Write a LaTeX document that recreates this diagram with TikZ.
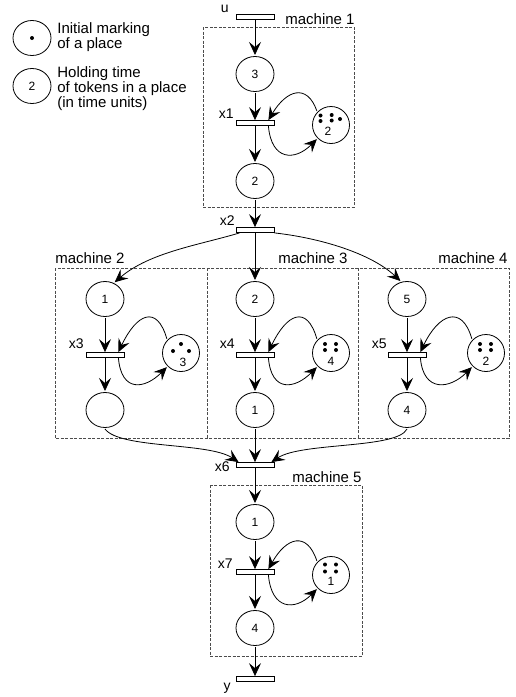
\documentclass[tikz,border=0pt]{standalone}
\usepackage{fontspec}
\setmainfont{Liberation Sans}
\usetikzlibrary{arrows.meta,shapes.geometric}

\tikzset{
  place/.style={ellipse, draw, minimum width=38pt, minimum height=35pt, inner sep=0pt, outer sep=1.5pt, font=\fontsize{12}{13}\selectfont},
  hold/.style={circle, draw, minimum size=37pt, inner sep=0pt, outer sep=1.5pt},
  bar/.style={rectangle, draw, fill=white, minimum width=38pt, minimum height=5pt, inner sep=0pt},
  arc/.style={-{Stealth[length=13pt,width=12pt,inset=5pt]}},
  machbox/.style={draw=black!70, dash pattern=on 3pt off 1.5pt, line width=0.6pt},
  lbl/.style={font=\fontsize{14}{15}\selectfont, inner sep=0pt},
  mlbl/.style={font=\fontsize{15}{13}\selectfont, inner sep=0pt},
  num/.style={font=\fontsize{12}{13}\selectfont, inner sep=0pt},
}

\begin{document}
\begin{tikzpicture}[x=1pt, y=-1pt, line width=0.8pt]
\useasboundingbox (0,0) rectangle (515,697);

% legend
\node[place] (lg1) at (32,38) {};
\fill (lg1.center) circle (2pt);
\node[mlbl, anchor=west, align=left] (lgt1) at (57,37) {Initial marking\\of a place};
\node[place] (lg2) at (32,86) {2};
\node[mlbl, anchor=west, align=left] (lgt2) at (57,89) {Holding time\\of tokens in a place\\(in time units)};

% machine boxes
\draw[machbox] (203,27) rectangle (354,207);
\draw[machbox] (55,268) rectangle (509,438);
\draw[machbox] (207,268) -- (207,438);
\draw[machbox] (358,268) -- (358,438);
\draw[machbox] (210,485) rectangle (362,656);
\node[mlbl, anchor=base east] at (355,24) {machine 1};
\node[mlbl, anchor=base west] at (55,263) {machine 2};
\node[mlbl, anchor=base east] at (348,263) {machine 3};
\node[mlbl, anchor=base east] at (508,263) {machine 4};
\node[mlbl, anchor=base east] at (362,482) {machine 5};

% transitions
\node[bar] (bu) at (255,17) {};
\node[bar] (bx1) at (255,123) {};
\node[bar] (bx2) at (255,230) {};
\node[bar] (bx3) at (105,355) {};
\node[bar] (bx4) at (255,355) {};
\node[bar] (bx5) at (407,355) {};
\node[bar] (bx6) at (255,465) {};
\node[bar] (bx7) at (255,572) {};
\node[bar] (by) at (255,679) {};
\node[lbl, anchor=base east] at (229,12) {u};
\node[lbl, anchor=base east] at (234,118) {x1};
\node[lbl, anchor=base east] at (235,225) {x2};
\node[lbl, anchor=base east] at (84,348) {x3};
\node[lbl, anchor=base east] at (235,348) {x4};
\node[lbl, anchor=base east] at (387,348) {x5};
\node[lbl, anchor=base east] at (230,471) {x6};
\node[lbl, anchor=base east] at (233,568) {x7};
\node[lbl, anchor=base east] at (231,690) {y};

% places
\node[place] (m1a) at (255,74) {3};
\node[place] (m1b) at (255,181) {2};
\node[place] (m2a) at (105,299) {1};
\node[place] (m2b) at (105,410) {};
\node[place] (m3a) at (255,299) {2};
\node[place] (m3b) at (255,410) {1};
\node[place] (m4a) at (407,299) {5};
\node[place] (m4b) at (407,410) {4};
\node[place] (m5a) at (255,522) {1};
\node[place] (m5b) at (255,628) {4};

% holding places with tokens
\node[hold] (h1) at (331,125) {};
\foreach \d in {(-10.5,-9.5),(0.7,-10),(-10.5,-4),(0.7,-4.5),(9,-6)}
  \fill ([shift={\d}]h1.center) circle (2pt);
\node[num] at ([shift={(-3,6)}]h1.center) {2};
\node[hold] (h2) at (181,353) {};
\foreach \d in {(0,-9),(-8,-2),(8,-2)}
  \fill ([shift={\d}]h2.center) circle (2pt);
\node[num] at ([shift={(2,9)}]h2.center) {3};
\node[hold] (h3) at (331,353) {};
\foreach \d in {(-6,-9),(5,-9),(-6,-3),(5,-3)}
  \fill ([shift={\d}]h3.center) circle (2pt);
\node[num] at ([shift={(0,8)}]h3.center) {4};
\node[hold] (h4) at (486,353) {};
\foreach \d in {(-6,-9),(5,-9),(-6,-3),(5,-3)}
  \fill ([shift={\d}]h4.center) circle (2pt);
\node[num] at ([shift={(0,8)}]h4.center) {2};
\node[hold] (h5) at (331,575) {};
\foreach \d in {(-6,-10.5),(5,-10.5),(-6,-3.5),(5,-3.5)}
  \fill ([shift={\d}]h5.center) circle (2pt);
\node[num] at ([shift={(0,6.5)}]h5.center) {1};

% main flow
\draw[arc] (bu) -- (m1a);
\draw[arc] (m1a) -- (bx1);
\draw[arc] (bx1) -- (m1b);
\draw[arc] (m1b) -- (bx2);
\draw[arc] ([xshift=4pt]bx2.south west) .. controls +(-40,12) and +(35,-30) .. (m2a.60);
\draw[arc] (bx2) -- (m3a);
\draw[arc] (bx2.south east) .. controls +(45,5) and +(-30,-28) .. (m4a.110);
\draw[arc] (m2a) -- (bx3);
\draw[arc] (bx3) -- (m2b);
\draw[arc] (m3a) -- (bx4);
\draw[arc] (bx4) -- (m3b);
\draw[arc] (m4a) -- (bx5);
\draw[arc] (bx5) -- (m4b);
\draw[arc] (m2b.south) .. controls +(15,20) and +(-30,-20) .. ([xshift=3pt]bx6.north west);
\draw[arc] (m3b) -- (bx6);
\draw[arc] (m4b.south) .. controls +(-10,20) and +(30,-20) .. ([xshift=-3pt]bx6.north east);
\draw[arc] (bx6) -- (m5a);
\draw[arc] (m5a) -- (bx7);
\draw[arc] (bx7) -- (m5b);
\draw[arc] (m5b) -- (by);

% holding loops
\draw[arc] (h1.north west) .. controls +(-10,-28) and +(18,-30) .. ([xshift=-6pt]bx1.north east);
\draw[arc] ([xshift=-6pt]bx1.south east) .. controls +(3,35) and +(-22,22) .. (h1.south west);
\draw[arc] (h2.north west) .. controls +(-10,-35) and +(18,-38) .. ([xshift=-6pt]bx3.north east);
\draw[arc] ([xshift=-6pt]bx3.south east) .. controls +(3,35) and +(-22,22) .. (h2.south west);
\draw[arc] (h3.north west) .. controls +(-10,-35) and +(18,-38) .. ([xshift=-6pt]bx4.north east);
\draw[arc] ([xshift=-6pt]bx4.south east) .. controls +(3,35) and +(-22,22) .. (h3.south west);
\draw[arc] (h4.north west) .. controls +(-10,-35) and +(18,-38) .. ([xshift=-6pt]bx5.north east);
\draw[arc] ([xshift=-6pt]bx5.south east) .. controls +(3,35) and +(-22,22) .. (h4.south west);
\draw[arc] (h5.north west) .. controls +(-10,-30) and +(18,-32) .. ([xshift=-6pt]bx7.north east);
\draw[arc] ([xshift=-6pt]bx7.south east) .. controls +(3,35) and +(-22,22) .. (h5.south west);
\end{tikzpicture}
\end{document}
